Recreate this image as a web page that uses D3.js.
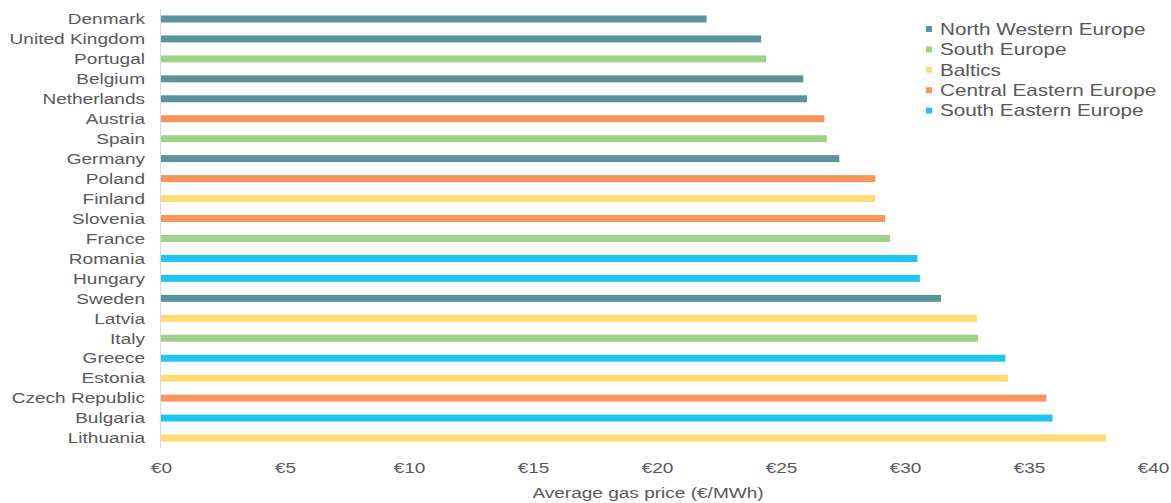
<!DOCTYPE html>
<html>
<head>
<meta charset="utf-8">
<script src="https://cdn.jsdelivr.net/npm/d3@7"></script>
<style>
  body { margin: 0; background: #fff; }
  svg { display: block; }
  text { font-family: "Liberation Sans", Arial, sans-serif; fill: #595959; }
</style>
</head>
<body>
<svg id="chart" width="1171" height="503"></svg>
<script>
// Average gas price by country (€/MWh), grouped by region
const countries = ["Denmark", "United Kingdom", "Portugal", "Belgium", "Netherlands", "Austria",
  "Spain", "Germany", "Poland", "Finland", "Slovenia", "France", "Romania", "Hungary", "Sweden",
  "Latvia", "Italy", "Greece", "Estonia", "Czech Republic", "Bulgaria", "Lithuania"];
const prices = [22.0, 24.2, 24.4, 25.9, 26.05, 26.75, 26.85, 27.35, 28.8, 28.8, 29.2, 29.4,
  30.5, 30.6, 31.45, 32.9, 32.95, 34.05, 34.15, 35.7, 35.95, 38.1];
const regionOf = ["NW", "NW", "S", "NW", "NW", "CE", "S", "NW", "CE", "B", "CE", "S",
  "SE", "SE", "NW", "B", "S", "SE", "B", "CE", "SE", "B"];

const regions = ["NW", "S", "B", "CE", "SE"];
const regionNames = ["North Western Europe", "South Europe", "Baltics", "Central Eastern Europe", "South Eastern Europe"];
const regionColors = ["#58949a", "#a0d189", "#fddc74", "#f7955a", "#21c4f2"];

const xTicks = [0, 5, 10, 15, 20, 25, 30, 35, 40];

const svg = d3.select("#chart");
const margin = { left: 161, right: 18, top: 9, bottom: 55 };
const W = 1171, H = 503;
const stretch = "scale(1.27,1)"; // wide text setting used throughout

const x = d3.scaleLinear().domain([0, 40]).range([margin.left, W - margin.right]);
const y = d3.scaleBand().domain(countries).range([margin.top, H - margin.bottom]).paddingInner(0.65).paddingOuter(0.325);
const color = d3.scaleOrdinal().domain(regions).range(regionColors);

const rows = countries.map((c, i) => ({ country: c, price: prices[i], region: regionOf[i] }));

// bars
svg.append("g").selectAll("rect").data(rows).join("rect")
  .attr("x", x(0))
  .attr("y", d => y(d.country))
  .attr("width", d => x(d.price) - x(0))
  .attr("height", y.bandwidth())
  .attr("fill", d => color(d.region));

// vertical category axis line
svg.append("line")
  .attr("x1", x(0) - 0.5).attr("x2", x(0) - 0.5)
  .attr("y1", margin.top).attr("y2", H - margin.bottom)
  .attr("stroke", "#d9d9d9").attr("stroke-width", 1);

// category labels
const yAxis = svg.append("g")
  .attr("transform", `translate(${x(0) - 16},0)`)
  .call(d3.axisLeft(y).tickSize(0).tickPadding(0));
yAxis.select(".domain").remove();
yAxis.selectAll("text")
  .attr("x", 0)
  .attr("dy", "0.35em")
  .attr("transform", stretch)
  .style("font-size", "15px")
  .attr("fill", "#595959");

// value axis labels
const xAxis = svg.append("g")
  .attr("transform", `translate(0,${H - margin.bottom})`)
  .call(d3.axisBottom(x).tickValues(xTicks).tickSize(0).tickPadding(14).tickFormat(d => "€" + d));
xAxis.select(".domain").remove();
xAxis.selectAll("text")
  .attr("transform", stretch)
  .style("font-size", "15px")
  .attr("fill", "#595959");

// axis title
svg.append("g").attr("transform", "translate(648,498)")
  .append("text")
  .attr("text-anchor", "middle")
  .attr("transform", stretch)
  .style("font-size", "15px")
  .text("Average gas price (€/MWh)");

// legend
const legend = svg.append("g").attr("transform", "translate(926,29)");
const item = legend.selectAll("g").data(regions).join("g")
  .attr("transform", (d, i) => `translate(0,${i * 20.4})`);
item.append("rect").attr("x", 0).attr("y", -3).attr("width", 6).attr("height", 6)
  .attr("fill", d => color(d));
item.append("g").attr("transform", "translate(14,0)")
  .append("text")
  .attr("dy", "0.36em")
  .attr("transform", stretch)
  .style("font-size", "16.3px")
  .text((d, i) => regionNames[i]);
</script>
</body>
</html>
